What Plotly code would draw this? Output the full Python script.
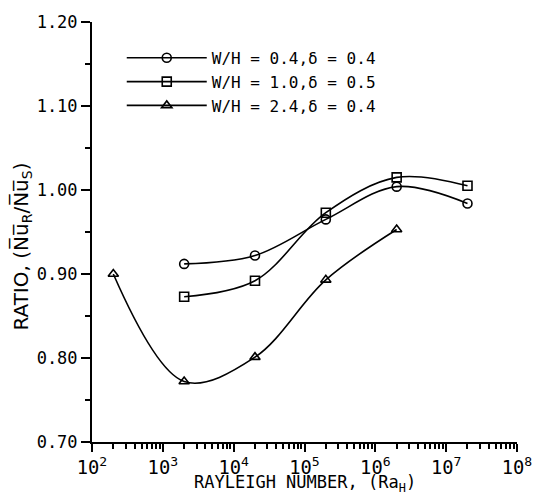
import plotly.graph_objects as go

# Data
ra_circle = [2e3, 2e4, 2e5, 2e6, 2e7]
ratio_circle = [0.912, 0.922, 0.965, 1.004, 0.984]

ra_square = [2e3, 2e4, 2e5, 2e6, 2e7]
ratio_square = [0.873, 0.892, 0.973, 1.015, 1.005]

ra_triangle = [2e2, 2e3, 2e4, 2e5, 2e6]
ratio_triangle = [0.900, 0.772, 0.801, 0.893, 0.953]

series_names = ["W/H = 0.4,\u03b4 = 0.4", "W/H = 1.0,\u03b4 = 0.5", "W/H = 2.4,\u03b4 = 0.4"]

MONO = "DejaVu Sans Mono"
fig = go.Figure()
for xs, ys, sym, name in [(ra_circle, ratio_circle, "circle-open", series_names[0]),
                          (ra_square, ratio_square, "square-open", series_names[1]),
                          (ra_triangle, ratio_triangle, "triangle-up-open", series_names[2])]:
    fig.add_trace(go.Scatter(
        x=xs, y=ys, name=name, mode="lines+markers",
        line=dict(color="black", width=1.6, shape="spline", smoothing=1.0),
        marker=dict(symbol=sym, size=9, color="black", line=dict(width=1.6, color="black")),
    ))

fig.update_layout(
    template="simple_white",
    width=544, height=496,
    margin=dict(l=92, r=22, t=14, b=54),
    font=dict(family=MONO, size=16, color="black"),
    showlegend=True,
    legend=dict(x=0.07, y=0.955, xanchor="left", yanchor="top",
                bgcolor="rgba(0,0,0,0)", itemwidth=80,
                font=dict(family=MONO, size=16, color="black")),
    xaxis=dict(type="log", range=[2, 8], showline=True, linecolor="black", linewidth=2,
               ticks="outside", ticklen=8, tickwidth=2,
               tickcolor="black", dtick=1, exponentformat="power", showexponent="all",
               tickfont=dict(family=MONO, size=15),
               minor=dict(ticks="outside", ticklen=5, tickwidth=1.5, tickcolor="black")),
    yaxis=dict(range=[0.70, 1.20], showline=True, linecolor="black", linewidth=2,
               ticks="outside", ticklen=9, tickwidth=2,
               tickcolor="black", dtick=0.1, tickformat=".2f",
               tickfont=dict(family=MONO, size=17),
               minor=dict(ticks="outside", ticklen=5, tickwidth=1.5, tickcolor="black",
                          dtick=0.05)),
)

fig.add_annotation(text="RAYLEIGH NUMBER, (Ra<sub>H</sub>)", xref="paper", yref="paper",
                   x=0.5, y=-0.098, xanchor="center", yanchor="middle", showarrow=False,
                   font=dict(family=MONO, size=17, color="black"))
fig.add_annotation(text="RATIO, (N\u0305u\u0305<sub>R</sub>/N\u0305u\u0305<sub>S</sub>)",
                   xref="paper", yref="paper", x=-0.165, y=0.465, xanchor="center",
                   yanchor="middle", textangle=-90, showarrow=False,
                   font=dict(family="DejaVu Sans", size=20, color="black"))

fig.write_html("out.html", config={"displayModeBar": False},
               post_script="document.body.style.margin='0';document.body.style.overflow='hidden';")
